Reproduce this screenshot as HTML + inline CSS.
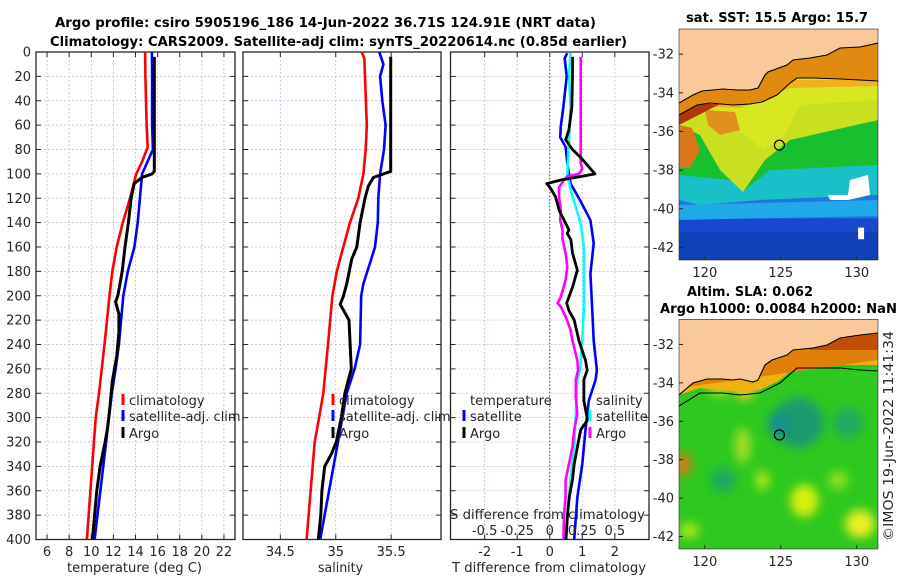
<!DOCTYPE html>
<html><head><meta charset="utf-8">
<style>
body{margin:0;background:#fff;}
svg{display:block;font-family:"DejaVu Sans","Liberation Sans",sans-serif;}
.tk{font-size:13px;fill:#262626;}
.ttl{font-size:13px;font-weight:bold;fill:#000;}
.lg{font-size:13px;fill:#262626;}
</style></head>
<body>
<svg id="chart" width="900" height="580" viewBox="0 0 900 580">
<text class="ttl" x="55" y="27" textLength="541" lengthAdjust="spacingAndGlyphs">Argo profile: csiro 5905196_186 14-Jun-2022 36.71S 124.91E (NRT data)</text>
<text class="ttl" x="50" y="46" textLength="577" lengthAdjust="spacingAndGlyphs">Climatology: CARS2009. Satellite-adj clim: synTS_20220614.nc (0.85d earlier)</text>
<g id="p1"></g>
<g id="p2"></g>
<g id="p3"></g>
<g id="m1"></g>
<g id="m2"></g>
<text class="ttl" x="686" y="22" textLength="182" lengthAdjust="spacingAndGlyphs">sat. SST: 15.5 Argo: 15.7</text>
<text class="ttl" x="687" y="296" textLength="126" lengthAdjust="spacingAndGlyphs">Altim. SLA: 0.062</text>
<text class="ttl" x="660" y="313" textLength="237" lengthAdjust="spacingAndGlyphs">Argo h1000: 0.0084 h2000: NaN</text>
<text class="tk" transform="translate(893,541) rotate(-90)" textLength="210" lengthAdjust="spacingAndGlyphs">©IMOS 19-Jun-2022 11:41:34</text>
</svg>
<script>
// ---- data ----
const depthTicks=[0,20,40,60,80,100,120,140,160,180,200,220,240,260,280,300,320,340,360,380,400];
const tempTicks=[6,8,10,12,14,16,18,20,22];
const salTicks=[34.5,35,35.5];
const tdiffTicks=[-2,-1,0,1,2];
const sdiffTicks=[-0.5,-0.25,0,0.25,0.5];
const tClimDepth=[0,20,40,60,78,90,100,120,140,160,180,200,240,280,300,350,400];
const tClim=[14.87,14.9,14.95,15.0,15.1,14.6,14.06,13.5,12.85,12.3,11.9,11.65,11.2,10.7,10.4,10.0,9.6];
const tSatDepth=[0,20,40,60,80,100,120,140,160,180,200,220,240,260,280,300,350,400];
const tSat=[15.48,15.5,15.5,15.5,15.57,14.6,14.4,14.2,13.9,13.3,12.9,12.7,12.5,12.2,11.86,11.6,10.95,10.3];
const tArgoDepth=[4,98,100,103,108,120,140,160,180,200,205,215,230,250,270,290,310,320,340,360,380,400];
const tArgo=[15.7,15.7,15.5,14.57,13.88,13.6,13.36,13.05,12.8,12.4,12.2,12.5,12.5,12.3,11.9,11.7,11.45,11.25,10.8,10.5,10.3,10.1];
const sClimDepth=[0,5,60,80,100,120,140,160,180,200,240,280,300,320,400];
const sClim=[35.234,35.258,35.28,35.27,35.25,35.204,35.129,35.068,35.01,34.97,34.93,34.888,34.85,34.81,34.737];
const sSatDepth=[0,10,20,40,60,80,100,120,140,160,170,190,200,240,260,280,300,400];
const sSat=[35.393,35.43,35.40,35.42,35.45,35.436,35.40,35.384,35.38,35.354,35.32,35.25,35.23,35.22,35.17,35.099,35.06,34.86];
const sArgoDepth=[4,98,103,110,120,140,160,170,190,200,207,220,260,280,300,320,330,340,360,380,400];
const sArgo=[35.496,35.496,35.34,35.294,35.264,35.22,35.19,35.144,35.10,35.07,35.04,35.12,35.14,35.083,35.05,35.005,34.96,34.90,34.875,34.865,34.843];
const dTSatDepth=[1,5,20,45,61,70,78,91,108,122,138,157,182,209,237,261,269,286,310,338,365,400];
const dTSat=[0.54,0.46,0.52,0.42,0.34,0.32,0.49,0.54,0.64,0.94,1.25,1.35,1.25,1.3,1.35,1.45,1.41,1.2,1.1,1.0,0.85,0.75];
const dTArgoDepth=[4,18,45,64,72,80,88,100,102,105,108,112,119,130,138,146,149,154,165,179,193,206,212,220,237,253,261,269,286,302,310,324,338,351,365,379,400];
const dTArgo=[0.70,0.70,0.68,0.59,0.49,0.70,1.0,1.39,1.0,0.34,-0.09,0.03,0.18,0.29,0.44,0.59,0.54,0.65,0.70,0.85,0.70,0.52,0.59,0.75,0.9,1.1,1.15,1.05,1.05,1.16,0.95,0.85,0.75,0.7,0.6,0.55,0.5];
const dSSatDepth=[1,18,45,72,100,113,127,141,160,182,209,237,261,269,297,324,351,379,400];
const dSSat=[0.16,0.148,0.16,0.148,0.135,0.16,0.2,0.238,0.262,0.262,0.262,0.25,0.232,0.212,0.2,0.188,0.16,0.135,0.122];
const dSArgoDepth=[4,91,96,100,102,105,111,119,130,138,146,154,165,176,187,201,206,209,217,228,237,253,261,269,283,297,310,324,338,351,365,379,400];
const dSArgo=[0.238,0.238,0.25,0.225,0.135,0.11,0.072,0.072,0.085,0.08,0.098,0.098,0.122,0.135,0.122,0.085,0.06,0.085,0.122,0.16,0.175,0.212,0.218,0.2,0.2,0.212,0.188,0.175,0.148,0.122,0.122,0.11,0.105];
const mapLatTicks=[-32,-34,-36,-38,-40,-42];
const mapLonTicks=[120,125,130];
const argoLon=124.91, argoLat=-36.71;

// ---- helpers ----
const NS='http://www.w3.org/2000/svg';
function mk(tag,at,parent){const e=document.createElementNS(NS,tag);for(const k in at)e.setAttribute(k,at[k]);parent.appendChild(e);return e;}
const Y0=52,Y1=539.5;
const yD=d=>Y0+(d/400)*(Y1-Y0);
function panel(g,x0,x1,xmin,xmax,xticks,labelTicks){
  const sx=v=>x0+(v-xmin)/(xmax-xmin)*(x1-x0);
  xticks.forEach(t=>{const l=mk('line',{x1:sx(t),x2:sx(t),y1:Y0,y2:Y1,stroke:'#b8bfe0','stroke-width':0.8,'stroke-dasharray':'2,2'},g);
    });
  depthTicks.forEach(d=>{const l=mk('line',{x1:x0,x2:x1,y1:yD(d),y2:yD(d),stroke:'#b8bfe0','stroke-width':0.8,'stroke-dasharray':'2,2'},g);
    
    mk('line',{x1:x0,x2:x0+5,y1:yD(d),y2:yD(d),stroke:'#262626'},g);
    mk('line',{x1:x1,x2:x1-5,y1:yD(d),y2:yD(d),stroke:'#262626'},g);});
  xticks.forEach(t=>{mk('line',{x1:sx(t),x2:sx(t),y1:Y1,y2:Y1-5,stroke:'#262626'},g);mk('line',{x1:sx(t),x2:sx(t),y1:Y0,y2:Y0+5,stroke:'#262626'},g);
    if(labelTicks){const tx=mk('text',{x:sx(t),y:556,'text-anchor':'middle',class:'tk'},g);tx.textContent=t;
      }});
  const fr=mk('rect',{x:x0,y:Y0,width:x1-x0,height:Y1-Y0,fill:'none',stroke:'#262626','stroke-width':1.3},g);
  
  return sx;
}
function line(g,sx,vals,deps,color,name,w){
  const d=vals.map((v,i)=>(i?'L':'M')+sx(v).toFixed(1)+','+yD(deps[i]).toFixed(1)).join('');
  const p=mk('path',{d:d,fill:'none',stroke:color,'stroke-width':w||2.6,'stroke-linejoin':'round'},g);
  
}
function legend(g,x,y,color,label,name){
  mk('rect',{x:x-1.5,y:y-11,width:3,height:11,fill:color},g);
  const t=mk('text',{x:x+6,y:y,class:'lg'},g);t.textContent=label;
  
}
function txt(g,x,y,s,name,anchor,cls,len){const t=mk('text',{x:x,y:y,'text-anchor':anchor||'middle',class:cls||'tk'},g);t.textContent=s;
  if(len){t.setAttribute('textLength',len);t.setAttribute('lengthAdjust','spacingAndGlyphs');}
  return t;}

// ---- panel 1 ----
const g1=document.getElementById('p1');
const sx1=panel(g1,36,235,5,23,tempTicks,true);
depthTicks.forEach(d=>txt(g1,31,yD(d)+4.5,d,'y-tick-label','end'));
line(g1,sx1,tClim,tClimDepth,'#ff0000','temp-climatology-line');
line(g1,sx1,tSat,tSatDepth,'#0000ff','temp-satellite-line');
line(g1,sx1,tArgo,tArgoDepth,'#000000','temp-argo-line',3);
legend(g1,123,405,'#ff0000','climatology','legend-climatology');
legend(g1,123,421,'#0000ff','satellite-adj. clim','legend-satellite');
legend(g1,123,438,'#000000','Argo','legend-argo');
txt(g1,67,572,'temperature (deg C)','x-axis-title','start','tk',135);

// ---- panel 2 ----
const g2=document.getElementById('p2');
const sx2=panel(g2,243,441,34.163,35.95,salTicks,true);
line(g2,sx2,sClim,sClimDepth,'#ff0000','sal-climatology-line');
line(g2,sx2,sSat,sSatDepth,'#0000ff','sal-satellite-line');
line(g2,sx2,sArgo,sArgoDepth,'#000000','sal-argo-line',3);
legend(g2,333,405,'#ff0000','climatology','legend-climatology');
legend(g2,333,421,'#0000ff','satellite-adj. clim','legend-satellite');
legend(g2,333,438,'#000000','Argo','legend-argo');
txt(g2,318,572,'salinity','x-axis-title','start','tk',45);

// ---- panel 3 ----
const g3=document.getElementById('p3');
const sx3=panel(g3,450.5,649,-3.05,3.05,tdiffTicks,true);
const sxS=v=>sx3(v*4);
const zl=mk('line',{x1:sx3(0),x2:sx3(0),y1:Y0,y2:Y1,stroke:'#4a5a20','stroke-width':1,'stroke-dasharray':'1.5,2'},g3);

line(g3,sx3,dTSat,dTSatDepth,'#0000ff','tdiff-satellite-line');
line(g3,sxS,dSSat,dSSatDepth,'#00ffff','sdiff-satellite-line');
line(g3,sxS,dSArgo,dSArgoDepth,'#ff00ff','sdiff-argo-line');
line(g3,sx3,dTArgo,dTArgoDepth,'#000000','tdiff-argo-line',2.8);
txt(g3,470,405,'temperature','legend-temperature-heading','start','lg');
legend(g3,464,421,'#0000ff','satellite','legend-t-satellite');
legend(g3,464,438,'#000000','Argo','legend-t-argo');
txt(g3,596,405,'salinity','legend-salinity-heading','start','lg');
legend(g3,590,421,'#00ffff','satellite','legend-s-satellite');
legend(g3,590,438,'#ff00ff','Argo','legend-s-argo');
txt(g3,450,519,'S difference from climatology','s-axis-title','start','lg',195);
sdiffTicks.forEach(t=>txt(g3,sxS(t),535,t,'s-tick-label'));
txt(g3,452,572,'T difference from climatology','x-axis-title','start','tk',194);

// ---- maps ----
function map(g,top,bot,pieces,coast,shelf){
  const L=679,R=878,lonMin=118.3,lonMax=131.4,latTop=-30.7,latBot=-42.65;
  const mx=v=>L+(v-lonMin)/(lonMax-lonMin)*(R-L);
  const my=v=>top+(latTop-v)/(latTop-latBot)*(bot-top);
  const cp='clip'+Math.round(top);
  const c=mk('clipPath',{id:cp},g);mk('rect',{x:L,y:top,width:R-L,height:bot-top},c);
  const inner=mk('g',{'clip-path':'url(#'+cp+')'},g);
  pieces.forEach(p=>{
    let e;
    if(p[0]==='r')e=mk('rect',{x:L+p[1]*(R-L)/100,y:top+p[2]*(bot-top)/100,width:p[3]*(R-L)/100,height:p[4]*(bot-top)/100,fill:p[5]},inner);
    else if(p[0]==='e')e=mk('ellipse',{cx:L+p[1]*(R-L)/100,cy:top+p[2]*(bot-top)/100,rx:p[3],ry:p[4],fill:p[5],filter:'url(#blur)'},inner);
    else e=mk('polygon',{points:p[1].map(q=>q[0]+','+q[1]).join(' '),fill:p[2]},inner);
    
  });
  const cl=mk('polyline',{points:coast.map(q=>q[0]+','+q[1]).join(' '),fill:'none',stroke:'#000','stroke-width':1.1},inner);
  
  const sl=mk('polyline',{points:shelf.map(q=>q[0]+','+q[1]).join(' '),fill:'none',stroke:'#000','stroke-width':1.1},inner);
  
  const ci=mk('circle',{cx:mx(argoLon),cy:my(argoLat),r:5,fill:'none',stroke:'#000','stroke-width':1.2},g);
  
  mk('rect',{x:L,y:top,width:R-L,height:bot-top,fill:'none',stroke:'#262626','stroke-width':0.6},g);
  mapLatTicks.forEach(t=>{mk('line',{x1:L,x2:L+4,y1:my(t),y2:my(t),stroke:'#262626'},g);txt(g,L-5,my(t)+4.5,t,'map-lat-label','end');});
  mapLonTicks.forEach(t=>{mk('line',{x1:mx(t),x2:mx(t),y1:bot,y2:bot-4,stroke:'#262626'},g);txt(g,mx(t),bot+17,t,'map-lon-label');});
}
const defs=mk('defs',{},document.getElementById('chart'));
const fl=mk('filter',{id:'blur',x:'-50%',y:'-50%',width:'200%',height:'200%'},defs);mk('feGaussianBlur',{stdDeviation:5},fl);

const coast1=[[679,103],[693,95],[702,91],[723,89],[737,90],[750,90],[758,88],[765,75],[768,72],[787,65],[793,60],[810,58],[827,55],[840,48],[860,47],[878,43]];
const shelf1=[[679,115],[697,105],[710,103],[733,105],[750,104],[762,102],[777,95],[790,83],[797,78],[813,78],[840,79],[860,80],[878,81]];
map(document.getElementById('m1'),29,260,[
 ['r',0,0,100,100,'#1648d0'],
 ['r',0,72,100,10,'#1e78e0'],
 ['p',[[679,205],[878,200],[878,216],[679,220]],'#20a8e8'],
 ['p',[[679,200],[700,205],[760,200],[878,195],[878,160],[679,160]],'#18c0c8'],
 ['p',[[679,175],[730,180],[745,190],[770,170],[878,165],[878,60],[679,60]],'#18c030'],
 ['p',[[679,125],[700,135],[720,170],[743,192],[765,160],[790,140],[878,120],[878,60],[679,60]],'#c8e020'],
 ['p',[[700,110],[725,120],[750,140],[765,150],[785,135],[800,105],[878,100],[878,60],[679,60]],'#d8e820'],
 ['p',[[679,112],[700,106],[740,108],[790,88],[878,86],[878,80],[679,80]],'#f0b020'],
 ['p',[[679,125],[692,128],[700,150],[690,168],[679,168]],'#d87818'],
 ['p',[[705,110],[735,112],[740,130],[720,135],[708,125]],'#e09020'],
 ['p',[[679,112],[700,104],[720,104],[679,125]],'#b03808'],
 ['p',[[679,80],[878,40],[878,81],[860,80],[840,79],[813,78],[797,78],[790,83],[777,95],[762,102],[750,104],[733,105],[710,103],[697,105],[679,115]],'#e08a10'],
 ['p',[[679,0],[878,0],[878,43],[860,47],[840,48],[827,55],[810,58],[793,60],[787,65],[768,72],[765,75],[758,88],[750,90],[737,90],[723,89],[702,91],[693,95],[679,103]],'#f9c99a'],
 ['r',0,88,100,12,'#1040b8'],
 ['p',[[828,195],[848,195],[850,180],[868,175],[870,195],[848,200],[830,200]],'#ffffff'],
 ['r',90,86,3,5,'#ffffff']
],coast1,shelf1);

const coast2=[[679,395],[693,383],[707,379],[723,379],[733,380],[740,379],[753,382],[758,380],[765,365],[772,360],[787,355],[793,350],[813,348],[827,345],[840,338],[860,335],[878,333]];
const shelf2=[[679,406],[700,393],[723,393],[740,395],[760,393],[780,383],[797,368],[820,368],[840,368],[860,370],[878,371]];
map(document.getElementById('m2'),319.5,549,[
 ['r',0,0,100,100,'#2ec820'],
 ['e',60,45,25,25,'#1a9a70'],
 ['e',50,46,10,12,'#128f90'],
 ['e',85,45,15,15,'#20a860'],
 ['e',22,70,12,12,'#1aa860'],
 ['e',63,79,14,16,'#d8f010'],
 ['e',91,89,15,14,'#e8f020'],
 ['e',33,30,10,12,'#d8d020'],
 ['e',20,30,12,8,'#9ae020'],
 ['e',2,63,8,12,'#d87818'],
 ['e',32,55,8,18,'#a0e020'],
 ['e',42,70,7,10,'#a8e818'],
 ['e',5,92,10,8,'#a8e818'],
 ['e',80,70,10,9,'#90e020'],
 ['p',[[679,395],[700,388],[740,392],[760,390],[780,380],[797,365],[878,365],[878,320],[679,320]],'#f0b010'],
 ['p',[[679,388],[878,360],[878,320],[679,320]],'#e08008'],
 ['p',[[800,340],[878,330],[878,350],[810,350]],'#c05008'],
 ['p',[[679,320],[878,320],[878,333],[860,335],[840,338],[827,345],[813,348],[793,350],[787,355],[772,360],[765,365],[758,380],[753,382],[740,379],[733,380],[723,379],[707,379],[693,383],[679,395]],'#f9c99a']
],coast2,shelf2);
</script>
</body></html>
